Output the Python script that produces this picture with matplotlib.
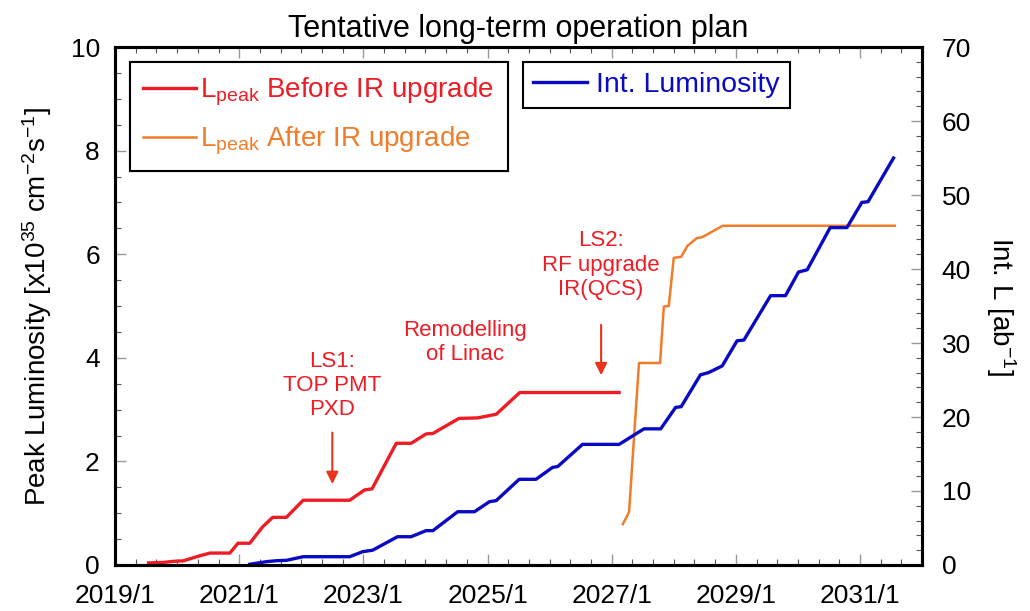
import matplotlib
matplotlib.use('Agg')
import matplotlib.pyplot as plt
from matplotlib.ticker import MultipleLocator, FixedLocator
import numpy as np

plt.rcParams['font.family'] = ['Liberation Sans', 'DejaVu Sans']
plt.rcParams['mathtext.fontset'] = 'custom'
plt.rcParams['mathtext.rm'] = 'Liberation Sans'
plt.rcParams['mathtext.it'] = 'Liberation Sans:italic'

# peak luminosity before IR upgrade [x1e35 cm^-2 s^-1], time in decimal years
t_before = [2019.54, 2019.78, 2019.94, 2020.10, 2020.37, 2020.53, 2020.85, 2020.98,
            2021.17, 2021.38, 2021.54, 2021.76, 2022.03, 2022.78, 2023.02, 2023.14,
            2023.53, 2023.77, 2024.01, 2024.12, 2024.54, 2024.84, 2025.14, 2025.52,
            2027.12]
l_before = [0.04, 0.05, 0.07, 0.08, 0.18, 0.23, 0.23, 0.42,
            0.42, 0.74, 0.92, 0.92, 1.25, 1.25, 1.45, 1.47,
            2.35, 2.35, 2.53, 2.54, 2.83, 2.84, 2.91, 3.33,
            3.33]

# peak luminosity after IR upgrade
t_after = [2027.18, 2027.28, 2027.44, 2027.78, 2027.84, 2027.92, 2028.00, 2028.12,
           2028.22, 2028.37, 2028.46, 2028.79, 2031.56]
l_after = [0.79, 1.02, 3.90, 3.90, 4.99, 5.00, 5.93, 5.95,
           6.16, 6.31, 6.33, 6.55, 6.55]

# integrated luminosity [ab^-1]
t_int = [2021.17, 2021.44, 2021.60, 2021.76, 2022.03, 2022.78, 2022.99, 2023.15,
         2023.55, 2023.77, 2024.01, 2024.12, 2024.52, 2024.79, 2025.03, 2025.14,
         2025.51, 2025.78, 2026.05, 2026.13, 2026.53, 2027.12, 2027.52, 2027.79,
         2028.03, 2028.12, 2028.43, 2028.56, 2028.78, 2029.02, 2029.13, 2029.56,
         2029.80, 2030.01, 2030.15, 2030.52, 2030.79, 2031.03, 2031.13, 2031.54]
int_l = [0.1, 0.45, 0.58, 0.63, 1.12, 1.12, 1.8, 2.0,
         3.82, 3.82, 4.64, 4.64, 7.2, 7.2, 8.55, 8.7,
         11.58, 11.58, 13.2, 13.3, 16.3, 16.3, 18.4, 18.4,
         21.3, 21.4, 25.7, 26.0, 26.9, 30.3, 30.4, 36.4,
         36.4, 39.6, 39.9, 45.6, 45.6, 49.0, 49.1, 55.0]

year_ticks = [2019, 2021, 2023, 2025, 2027, 2029, 2031]
year_labels = ['2019/1', '2021/1', '2023/1', '2025/1', '2027/1', '2029/1', '2031/1']

red = '#ee1c25'
orange = '#ef7d2a'
blue = '#0a0ac4'

fig = plt.figure(figsize=(10.30, 6.11), dpi=100)
ax = fig.add_axes([0.1117, 0.0753, 0.7835, 0.8477])
ax2 = ax.twinx()

ln1, = ax.plot(t_before, l_before, color=red, lw=2.4,
               label=r'$\mathregular{L_{peak}}$ Before IR upgrade')
ln2, = ax.plot(t_after, l_after, color=orange, lw=1.8,
               label=r'$\mathregular{L_{peak}}$ After IR upgrade')
ln3, = ax2.plot(t_int, int_l, color=blue, lw=2.4, label='Int. Luminosity')

ax.set_xlim(2019, 2032)
ax.set_ylim(0, 10)
ax2.set_ylim(0, 70)

ax.xaxis.set_major_locator(FixedLocator(year_ticks))
ax.set_xticklabels(year_labels)
ax.xaxis.set_minor_locator(MultipleLocator(1 / 3))
ax.yaxis.set_major_locator(MultipleLocator(2))
ax.yaxis.set_minor_locator(MultipleLocator(0.5))
ax2.yaxis.set_major_locator(MultipleLocator(10))
ax2.yaxis.set_minor_locator(MultipleLocator(2))

for a in (ax, ax2):
    a.tick_params(which='major', direction='in', length=8, width=1, color='#999999',
                  labelsize=19, pad=11)
    a.tick_params(which='minor', direction='in', length=4, width=0.8, color='#555555')
    for s in a.spines.values():
        s.set_linewidth(2.2)
ax.tick_params(which='both', top=True)
ax.tick_params(axis='x', pad=14)
ax2.tick_params(axis='y', pad=14)

ax.set_ylabel(r'Peak Luminosity [x10$^{35}$ cm$^{-2}$s$^{-1}$]', fontsize=20, labelpad=12)
ax2.set_ylabel(r'Int. L [ab$^{-1}$]', fontsize=20, rotation=270, labelpad=34)
ax.set_title('Tentative long-term operation plan', fontsize=22, pad=7)

leg1 = ax.legend(handles=[ln1, ln2], loc='upper left', bbox_to_anchor=(0.018, 0.971),
                 borderaxespad=0, fontsize=20, labelcolor='linecolor', fancybox=False,
                 framealpha=1, edgecolor='black', handlelength=1.9, handletextpad=0.15,
                 borderpad=0.5, labelspacing=0.6)
leg1.get_frame().set_linewidth(1.5)
ax.add_artist(leg1)
leg2 = ax2.legend(handles=[ln3], loc='upper left', bbox_to_anchor=(0.506, 0.971),
                  borderaxespad=0, fontsize=20.5, labelcolor='linecolor', fancybox=False,
                  framealpha=1, edgecolor='black', handlelength=1.9, handletextpad=0.3,
                  borderpad=0.35)
leg2.get_frame().set_linewidth(1.5)

# shutdown / upgrade notes
note_kw = dict(color=red, fontsize=16, ha='center', va='center', linespacing=1.2)
ax.text(2022.5, 3.47, 'LS1:\nTOP PMT\nPXD', **note_kw)
ax.text(2024.64, 4.30, 'Remodelling\nof Linac', **note_kw)
ax.text(2026.83, 5.79, 'LS2:\nRF upgrade\nIR(QCS)', **note_kw)
arrow_kw = dict(arrowstyle='-|>', color='#e8341c', lw=1.5, mutation_scale=18)
ax.annotate('', xy=(2022.5, 1.51), xytext=(2022.5, 2.61), arrowprops=arrow_kw)
ax.annotate('', xy=(2026.83, 3.61), xytext=(2026.83, 4.69), arrowprops=arrow_kw)

fig.savefig('out.png', dpi=100)
